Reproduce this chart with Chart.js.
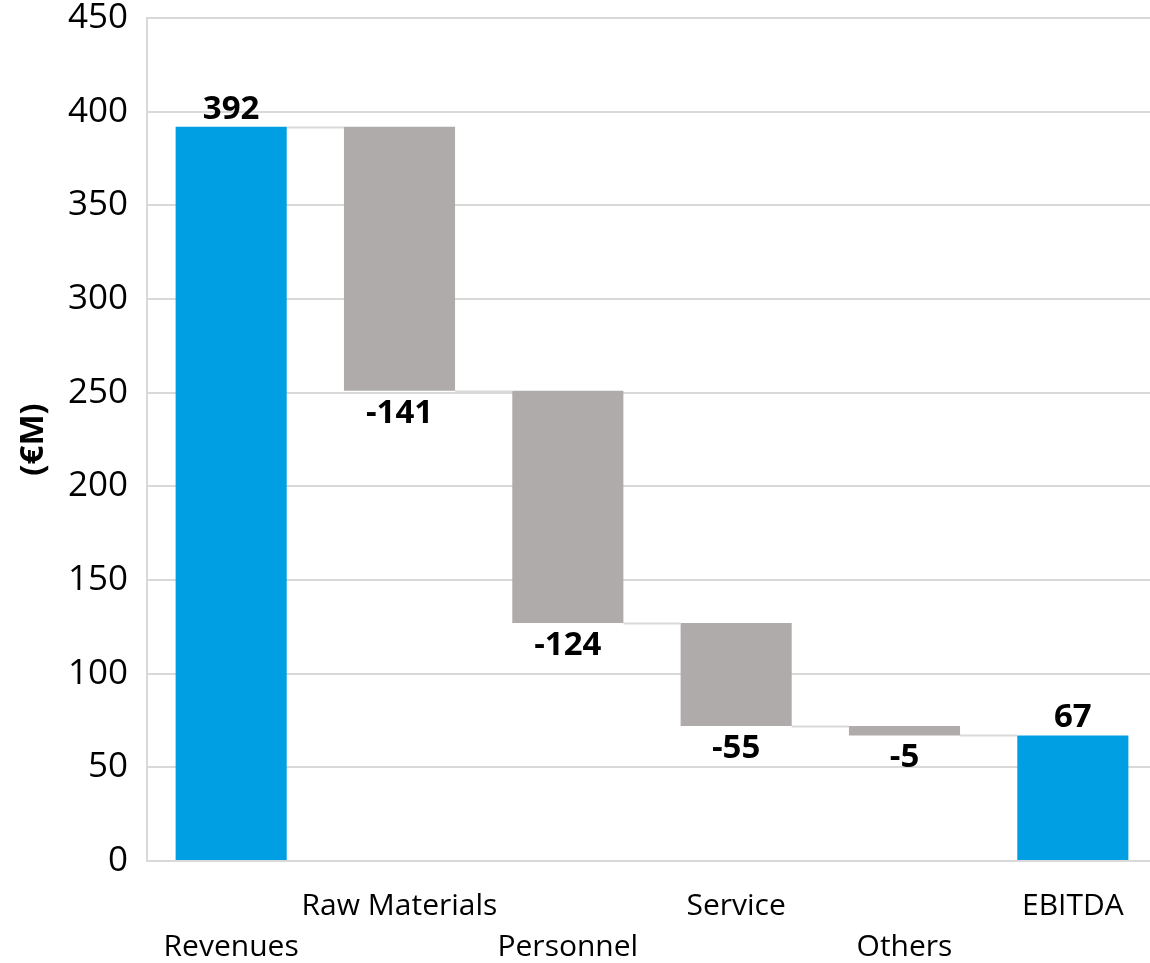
<!DOCTYPE html>
<html>
<head>
<meta charset="utf-8">
<script src="https://cdn.jsdelivr.net/npm/chart.js@4.4.1/dist/chart.umd.min.js"></script>
<style>
  html, body { margin: 0; padding: 0; background: #fff; overflow: hidden; }
  /* the plot runs a few pixels past the right edge of the page */
  #wrap { width: 1157px; height: 963px; }
</style>
</head>
<body>
<div id="wrap"><canvas id="myChart"></canvas></div>
<script>
const categories = ["Revenues", "Raw Materials", "Personnel", "Service", "Others", "EBITDA"];
const amounts = [392, -141, -124, -55, -5, 67];
const isTotal = [true, false, false, false, false, true];
const yTicks = [0, 50, 100, 150, 200, 250, 300, 350, 400, 450];

const BLUE = "#009fe3";
const GREY = "#afabab";
const GRID = "#d9d9d9";
const FONT = "'Open Sans', 'Noto Sans', sans-serif";

// running level after each step, and the floating [low, high] range of each bar
const levels = [];
const ranges = [];
let running = 0;
amounts.forEach((v, i) => {
  if (isTotal[i]) {
    running = v;
    ranges.push([0, v]);
  } else {
    const start = running;
    running += v;
    ranges.push([Math.min(start, running), Math.max(start, running)]);
  }
  levels.push(running);
});

// alternate category labels between two rows
const labels = categories.map((c, i) => (i % 2 ? [c, ""] : ["", c]));

const waterfallExtras = {
  id: "waterfallExtras",
  beforeDatasetsDraw(chart) {
    const { ctx, scales: { y } } = chart;
    const bars = chart.getDatasetMeta(0).data;
    ctx.save();
    ctx.strokeStyle = GRID;
    ctx.lineWidth = 2;
    for (let i = 0; i < bars.length - 1; i++) {
      const yy = Math.round(y.getPixelForValue(levels[i])) + 0.5;
      ctx.beginPath();
      ctx.moveTo(bars[i].x + bars[i].width / 2, yy);
      ctx.lineTo(bars[i + 1].x - bars[i + 1].width / 2, yy);
      ctx.stroke();
    }
    ctx.restore();
  },
  afterDatasetsDraw(chart) {
    const { ctx, scales: { y } } = chart;
    const bars = chart.getDatasetMeta(0).data;
    ctx.save();
    ctx.fillStyle = "#000";
    ctx.font = "bold 33px " + FONT;
    ctx.textAlign = "center";
    bars.forEach((bar, i) => {
      const v = amounts[i];
      if (v >= 0) {
        ctx.textBaseline = "bottom";
        ctx.fillText(String(v), bar.x, y.getPixelForValue(ranges[i][1]) - 1);
      } else {
        ctx.textBaseline = "top";
        ctx.fillText(String(v), bar.x, y.getPixelForValue(ranges[i][0]) + 6);
      }
    });
    ctx.restore();
  }
};

new Chart(document.getElementById("myChart").getContext("2d"), {
  type: "bar",
  data: {
    labels: labels,
    datasets: [
      {
        data: ranges,
        backgroundColor: amounts.map((v, i) => (isTotal[i] ? BLUE : GREY)),
        borderWidth: 0,
        borderSkipped: false,
        barPercentage: 0.66,
        categoryPercentage: 1.0,
      },
    ],
  },
  options: {
    responsive: true,
    maintainAspectRatio: false,
    animation: false,
    layout: { padding: { left: 0, right: 0, top: 18, bottom: 0 } },
    plugins: {
      legend: { display: false },
      tooltip: { enabled: false },
    },
    scales: {
      x: {
        grid: { display: false, drawTicks: false },
        border: { display: true, color: GRID, width: 2 },
        ticks: {
          color: "#000",
          padding: 25,
          maxRotation: 0,
          autoSkip: false,
          font: { family: FONT, size: 30, lineHeight: 1.37 },
        },
        afterFit(scale) {
          scale.height = 102;
          scale.paddingLeft = 0;
          scale.paddingRight = 0;
        },
      },
      y: {
        min: 0,
        max: 450,
        afterBuildTicks(scale) {
          scale.ticks = yTicks.map((v) => ({ value: v }));
        },
        grid: { color: GRID, lineWidth: 2, drawTicks: false },
        border: { display: true, color: GRID, width: 2 },
        ticks: {
          color: "#000",
          padding: 19,
          font: { family: FONT, size: 35 },
        },
        title: {
          display: true,
          text: "(€M)",
          color: "#000",
          padding: { top: 14, bottom: 0 },
          font: { family: FONT, size: 33, weight: "bold" },
        },
        afterFit(scale) {
          scale.width = 147;
          scale.paddingTop = 0;
          scale.paddingBottom = 0;
        },
      },
    },
  },
  plugins: [waterfallExtras],
});
</script>
</body>
</html>
